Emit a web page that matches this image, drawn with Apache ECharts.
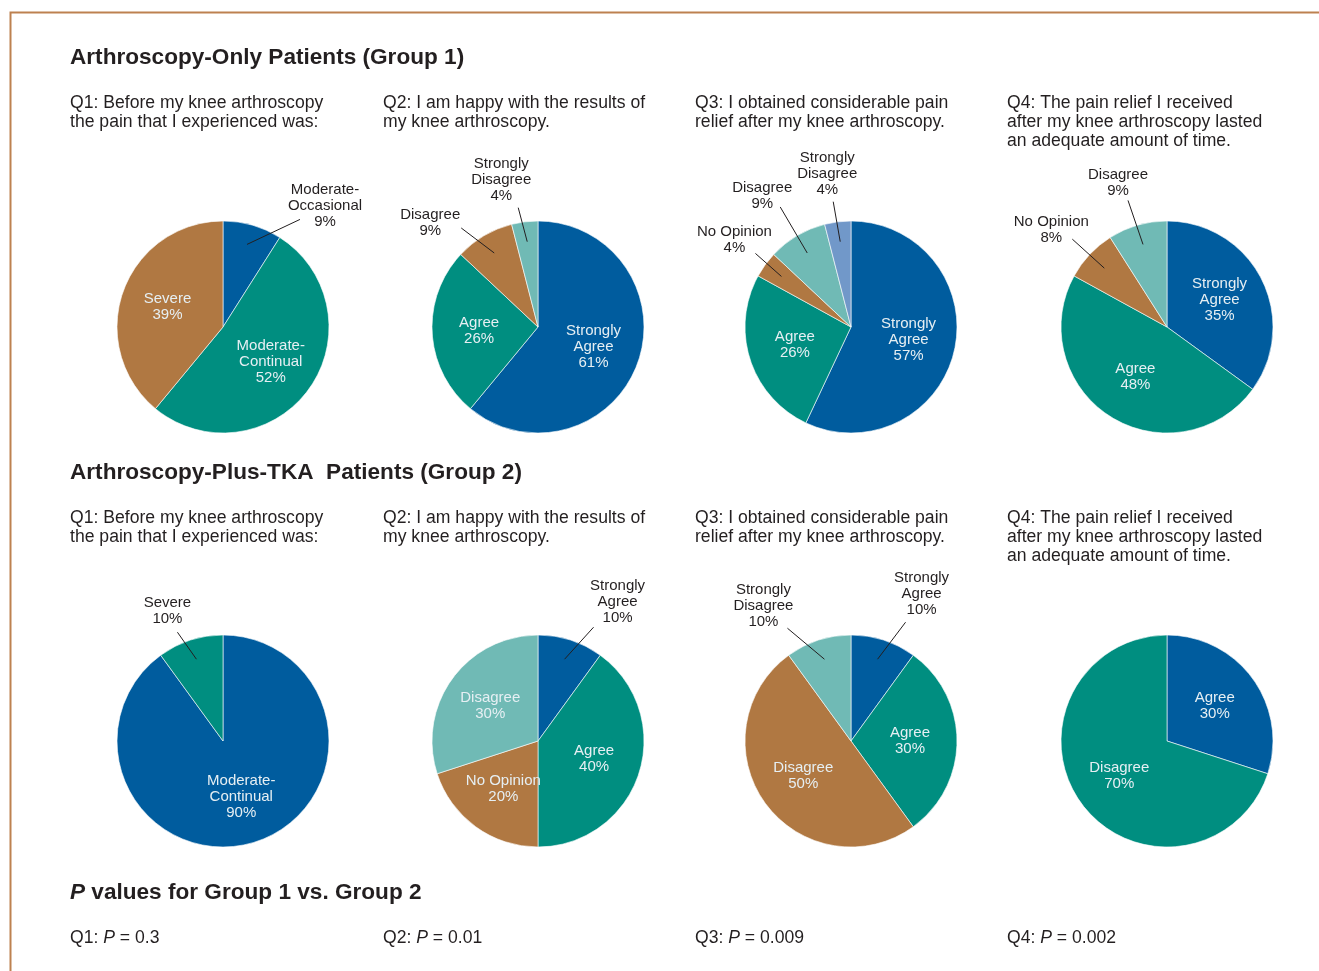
<!DOCTYPE html>
<html>
<head>
<meta charset="utf-8">
<script src="https://cdn.jsdelivr.net/npm/echarts@6/dist/echarts.min.js"></script>
<style>
html,body{margin:0;padding:0;background:#ffffff;}
#chart{width:1319px;height:971px;}
</style>
</head>
<body>
<div id="chart"></div>
<script>
// ---------------- DATA ----------------
const group1Title = 'Arthroscopy-Only Patients (Group 1)';
const group2Title = 'Arthroscopy-Plus-TKA  Patients (Group 2)';
const questionTexts = [
  'Q1: Before my knee arthroscopy\nthe pain that I experienced was:',
  'Q2: I am happy with the results of\nmy knee arthroscopy.',
  'Q3: I obtained considerable pain\nrelief after my knee arthroscopy.',
  'Q4: The pain relief I received\nafter my knee arthroscopy lasted\nan adequate amount of time.'
];
const pValueTitle = 'P values for Group 1 vs. Group 2';
const pValueQuestions = ['Q1', 'Q2', 'Q3', 'Q4'];
const pValues = ['0.3', '0.01', '0.009', '0.002'];

const g1q1Names = ['Moderate-Occasional', 'Moderate-Continual', 'Severe'];
const g1q1Values = [9, 52, 39];
const g1q2Names = ['Strongly Agree', 'Agree', 'Disagree', 'Strongly Disagree'];
const g1q2Values = [61, 26, 9, 4];
const g1q3Names = ['Strongly Agree', 'Agree', 'No Opinion', 'Disagree', 'Strongly Disagree'];
const g1q3Values = [57, 26, 4, 9, 4];
const g1q4Names = ['Strongly Agree', 'Agree', 'No Opinion', 'Disagree'];
const g1q4Values = [35, 48, 8, 9];

const g2q1Names = ['Moderate-Continual', 'Severe'];
const g2q1Values = [90, 10];
const g2q2Names = ['Strongly Agree', 'Agree', 'No Opinion', 'Disagree'];
const g2q2Values = [10, 40, 20, 30];
const g2q3Names = ['Strongly Agree', 'Agree', 'Disagree', 'Strongly Disagree'];
const g2q3Values = [10, 30, 50, 10];
const g2q4Names = ['Agree', 'Disagree'];
const g2q4Values = [30, 70];

// ---------------- LAYOUT / STYLE ----------------
const palette = ['#005C9E', '#008E80', '#B07842', '#70BAB5', '#7198C9'];
const FONT = 'Liberation Sans';
const TEXT_DARK = '#231f20';
const pieRadius = 106;
const colX = [223, 538, 851, 1167];
const rowY = [327, 741];
const textColX = [70, 383, 695, 1007];

// outside-label placement, offsets relative to the leader-line start (px)
const outsidePlacement = {
  '0-0': {end: [53, -25], text: [78, -39]},
  '1-2': {end: [-33, -25], text: [-64, -30]},
  '1-3': {end: [-9, -34], text: [-26, -62]},
  '2-2': {end: [-26, -23], text: [-47, -37]},
  '2-3': {end: [-27, -46], text: [-45, -57]},
  '2-4': {end: [-7, -40], text: [-13, -68]},
  '3-2': {end: [-32, -29], text: [-53, -38]},
  '3-3': {end: [-15, -44], text: [-25, -62]},
  '4-1': {end: [-19, -27], text: [-29, -48]},
  '5-0': {end: [29, -32], text: [53, -57]},
  '6-0': {end: [28, -37], text: [44, -65]},
  '6-3': {end: [-37, -31], text: [-61, -53]}
};

const pies = [
  {names: g1q1Names, values: g1q1Values, center: [colX[0], rowY[0]]},
  {names: g1q2Names, values: g1q2Values, center: [colX[1], rowY[0]]},
  {names: g1q3Names, values: g1q3Values, center: [colX[2], rowY[0]]},
  {names: g1q4Names, values: g1q4Values, center: [colX[3], rowY[0]]},
  {names: g2q1Names, values: g2q1Values, center: [colX[0], rowY[1]]},
  {names: g2q2Names, values: g2q2Values, center: [colX[1], rowY[1]]},
  {names: g2q3Names, values: g2q3Values, center: [colX[2], rowY[1]]},
  {names: g2q4Names, values: g2q4Values, center: [colX[3], rowY[1]]}
];

function labelText(p) {
  const n = p.name.replace('Strongly ', 'Strongly\n').replace('Moderate-', 'Moderate-\n');
  return n + '\n' + p.value + '%';
}

const series = [];
pies.forEach(function (pie, pi) {
  // visible slices
  series.push({
    type: 'pie',
    z: 1,
    center: pie.center,
    radius: pieRadius,
    startAngle: 90,
    clockwise: true,
    silent: true,
    animation: false,
    label: {show: false},
    labelLine: {show: false},
    itemStyle: {borderColor: '#ffffff', borderWidth: 0.6},
    emphasis: {disabled: true},
    data: pie.names.map(function (n, i) {
      return {name: n, value: pie.values[i], itemStyle: {color: palette[i]}};
    })
  });
  // transparent overlay that carries the labels
  series.push({
    type: 'pie',
    z: 5,
    center: pie.center,
    radius: [26, 86],
    startAngle: 90,
    clockwise: true,
    silent: true,
    animation: false,
    avoidLabelOverlap: false,
    itemStyle: {color: 'rgba(0,0,0,0)', borderWidth: 0},
    emphasis: {disabled: true},
    label: {
      show: true,
      formatter: labelText,
      fontFamily: FONT,
      fontSize: 15,
      lineHeight: 16,
      align: 'center'
    },
    labelLine: {show: false},
    labelLayout: function (p) {
      const pl = outsidePlacement[pi + '-' + p.dataIndex];
      if (!pl || !p.labelLinePoints) return {};
      const s = p.labelLinePoints[0];
      return {
        x: s[0] + pl.text[0],
        y: s[1] + pl.text[1],
        align: 'center',
        verticalAlign: 'middle',
        labelLinePoints: [[s[0], s[1]], [s[0] + pl.end[0], s[1] + pl.end[1]]]
      };
    },
    data: pie.names.map(function (n, i) {
      const v = pie.values[i];
      const outside = v <= 10;
      return {
        name: n,
        value: v,
        label: outside
          ? {position: 'outside', color: TEXT_DARK}
          : {position: 'inside', color: '#e6eff3'},
        labelLine: outside
          ? {show: true, length: 10, length2: 0, lineStyle: {color: TEXT_DARK, width: 1}}
          : {show: false}
      };
    })
  });
});

// ---------------- TEXT BLOCKS ----------------
const titles = [];
const HEAD_SIZE = 22.6;
const Q_SIZE = 17.6;
function heading(text, cy) {
  titles.push({
    text: text, left: textColX[0], top: cy - 13, padding: 0,
    textStyle: {fontFamily: FONT, fontSize: HEAD_SIZE, fontWeight: 'bold', color: TEXT_DARK, lineHeight: 26}
  });
}
function questionRow(cy) {
  questionTexts.forEach(function (q, i) {
    titles.push({
      text: q, left: textColX[i], top: cy - 9.5, padding: 0,
      textStyle: {fontFamily: FONT, fontSize: Q_SIZE, fontWeight: 'normal', color: TEXT_DARK, lineHeight: 19}
    });
  });
}
heading(group1Title, 58);
questionRow(103);
heading(group2Title, 473);
questionRow(518);

titles.push({
  text: '{i|P}{b|' + pValueTitle.slice(1) + '}',
  left: textColX[0], top: 880, padding: 0,
  textStyle: {
    rich: {
      i: {fontFamily: FONT, fontSize: HEAD_SIZE, fontWeight: 'bold', fontStyle: 'italic', color: TEXT_DARK, lineHeight: 26},
      b: {fontFamily: FONT, fontSize: HEAD_SIZE, fontWeight: 'bold', color: TEXT_DARK, lineHeight: 26}
    }
  }
});
pValueQuestions.forEach(function (q, i) {
  titles.push({
    text: '{n|' + q + ': }{i|P}{n| = ' + pValues[i] + '}',
    left: textColX[i], top: 928.5, padding: 0,
    textStyle: {
      fontWeight: 'normal',
      rich: {
        n: {fontFamily: FONT, fontSize: Q_SIZE, fontWeight: 'normal', color: TEXT_DARK, lineHeight: 19},
        i: {fontFamily: FONT, fontSize: Q_SIZE, fontWeight: 'normal', fontStyle: 'italic', color: TEXT_DARK, lineHeight: 19}
      }
    }
  });
});

const chart = echarts.init(document.getElementById('chart'), null, {renderer: 'canvas'});
chart.setOption({
  backgroundColor: '#ffffff',
  animation: false,
  title: titles,
  graphic: [{
    type: 'polyline',
    silent: true,
    shape: {points: [[10.5, 971], [10.5, 12.5], [1319, 12.5]]},
    style: {stroke: '#BD8150', lineWidth: 2, fill: null}
  }],
  series: series
});
</script>
</body>
</html>
